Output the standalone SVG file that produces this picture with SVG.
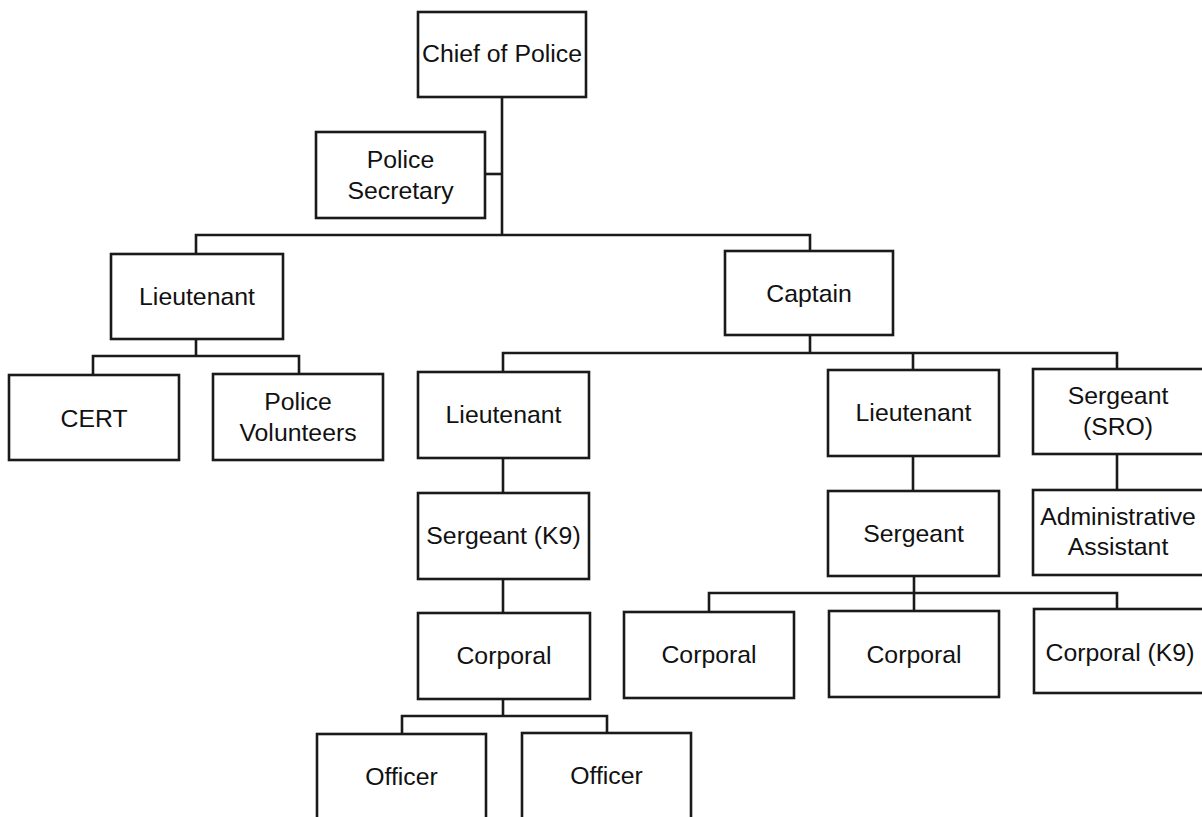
<svg xmlns="http://www.w3.org/2000/svg" width="1202" height="817" viewBox="0 0 1202 817">
<style>
.box{fill:#fff;stroke:#1a1a1a;stroke-width:2.6}
.ln{fill:none;stroke:#1a1a1a;stroke-width:2.6}
text{font-family:"Liberation Sans",Arial,sans-serif;font-size:24.8px;fill:#111;text-anchor:middle}
</style>
<rect width="1202" height="817" fill="#fff"/>
<g id="connectors">
<path class="ln" d="M502,97 V235"/>
<path class="ln" d="M485,174 H502"/>
<path class="ln" d="M196,254 V235 H810 V251"/>
<path class="ln" d="M810,335 V353"/>
<path class="ln" d="M503,372 V353 H1117 V369"/>
<path class="ln" d="M913,353 V370"/>
<path class="ln" d="M196,339 V356"/>
<path class="ln" d="M93,375 V356 H299 V374"/>
<path class="ln" d="M503,458 V493"/>
<path class="ln" d="M503,579 V613"/>
<path class="ln" d="M503,699 V716"/>
<path class="ln" d="M402,734 V716 H607 V733"/>
<path class="ln" d="M913,456 V491"/>
<path class="ln" d="M914,576 V611"/>
<path class="ln" d="M709,612 V593 H1117 V609"/>
<path class="ln" d="M1117,454 V490"/>
</g>
<g id="chief"><rect class="box" x="418" y="12" width="168" height="85"/><text x="502" y="62">Chief of Police</text></g>
<g id="secretary"><rect class="box" x="316" y="132" width="169" height="86"/><text x="400.5" y="168">Police</text><text x="400.5" y="199">Secretary</text></g>
<g id="lieutenant1"><rect class="box" x="111" y="254" width="172" height="85"/><text x="197" y="305">Lieutenant</text></g>
<g id="captain"><rect class="box" x="725" y="251" width="168" height="84"/><text x="809" y="302">Captain</text></g>
<g id="cert"><rect class="box" x="9" y="375" width="170" height="85"/><text x="94" y="427">CERT</text></g>
<g id="volunteers"><rect class="box" x="213" y="374" width="170" height="86"/><text x="298" y="410">Police</text><text x="298" y="441">Volunteers</text></g>
<g id="lieutenant2"><rect class="box" x="418" y="372" width="171" height="86"/><text x="503.5" y="423">Lieutenant</text></g>
<g id="lieutenant3"><rect class="box" x="828" y="370" width="171" height="86"/><text x="913.5" y="421">Lieutenant</text></g>
<g id="sergeant-sro"><rect class="box" x="1033" y="369" width="175" height="85"/><text x="1118" y="404">Sergeant</text><text x="1118" y="435">(SRO)</text></g>
<g id="sergeant-k9"><rect class="box" x="418" y="493" width="171" height="86"/><text x="503.5" y="544">Sergeant (K9)</text></g>
<g id="sergeant"><rect class="box" x="828" y="491" width="171" height="85"/><text x="913.5" y="542">Sergeant</text></g>
<g id="admin"><rect class="box" x="1033" y="490" width="175" height="85"/><text x="1118" y="525">Administrative</text><text x="1118" y="555">Assistant</text></g>
<g id="corporal1"><rect class="box" x="418" y="613" width="172" height="86"/><text x="504" y="664">Corporal</text></g>
<g id="corporal2"><rect class="box" x="624" y="612" width="170" height="86"/><text x="709" y="663">Corporal</text></g>
<g id="corporal3"><rect class="box" x="829" y="611" width="170" height="86"/><text x="914" y="663">Corporal</text></g>
<g id="corporal-k9"><rect class="box" x="1034" y="609" width="174" height="84"/><text x="1120" y="661">Corporal (K9)</text></g>
<g id="officer1"><rect class="box" x="317" y="734" width="169" height="90"/><text x="401.5" y="785">Officer</text></g>
<g id="officer2"><rect class="box" x="522" y="733" width="169" height="90"/><text x="606.5" y="784">Officer</text></g>
</svg>
